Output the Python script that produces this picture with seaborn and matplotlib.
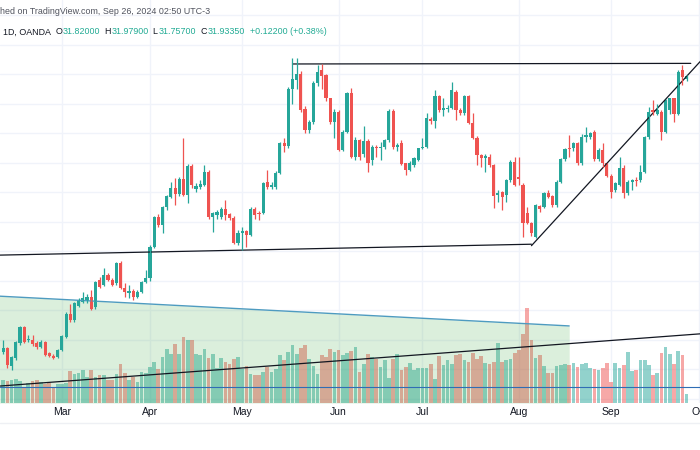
import numpy as np
import pandas as pd
import matplotlib
matplotlib.use("Agg")
import matplotlib.pyplot as plt
import seaborn as sns

opens = [22.58, 22.70, 22.10, 22.36, 22.87, 23.41, 22.98, 23.00, 22.89, 22.73,
         22.92, 22.53, 22.44, 22.42, 22.64, 23.09, 23.88, 23.66, 24.14, 24.28,
         24.30, 24.45, 24.11, 25.01, 24.85, 25.18, 25.02, 24.90, 25.58, 24.73,
         24.59, 24.65, 24.45, 24.62, 24.96, 25.07, 26.15, 27.16, 26.88, 27.48,
         27.84, 28.12, 27.93, 28.43, 27.90, 28.88, 28.09, 28.18, 28.24, 28.69,
         27.16, 27.22, 27.16, 27.44, 27.24, 27.13, 26.28, 26.62, 26.67, 26.54,
         27.44, 27.30, 27.30, 28.35, 28.18, 28.18, 28.63, 29.65, 29.57, 31.48,
         31.79, 32.00, 30.80, 30.10, 30.38, 31.68, 32.13, 31.96, 31.17, 30.38,
         30.72, 29.44, 30.04, 31.34, 29.19, 29.76, 29.28, 29.74, 29.08, 29.53,
         29.48, 29.53, 29.76, 30.74, 29.53, 29.65, 28.98, 28.75, 28.92, 29.09,
         29.48, 29.54, 30.47, 30.39, 31.24, 30.78, 30.80, 30.84, 31.40, 30.78,
         30.67, 31.24, 30.33, 29.82, 29.26, 29.14, 29.20, 28.92, 27.90, 28.01,
         27.90, 28.41, 29.03, 28.50, 28.24, 27.28, 26.94, 26.49, 27.53, 27.50,
         27.96, 27.86, 27.56, 28.35, 29.11, 29.48, 29.48, 29.65, 28.97, 29.88,
         29.88, 30.05, 29.11, 29.42, 28.97, 28.54, 28.06, 28.23, 28.83, 27.95,
         28.35, 28.42, 28.40, 28.69, 29.87, 30.78, 30.66, 30.72, 30.04, 30.78,
         31.17, 30.66, 32.13, 31.82]
highs = [23.00, 22.75, 22.45, 22.95, 23.45, 23.45, 23.15, 23.15, 22.95, 22.98,
         22.95, 22.58, 22.50, 22.68, 23.15, 23.92, 24.20, 24.28, 24.40, 24.62,
         24.55, 24.67, 25.00, 25.13, 25.41, 25.25, 25.10, 25.62, 25.65, 24.90,
         24.85, 24.70, 24.68, 25.00, 25.36, 26.20, 27.20, 27.25, 27.52, 27.90,
         28.35, 28.46, 28.50, 29.82, 28.95, 28.95, 28.30, 28.40, 28.91, 28.74,
         27.33, 27.40, 27.50, 27.73, 27.30, 27.20, 26.70, 26.80, 26.70, 27.50,
         27.50, 27.35, 28.35, 28.74, 28.35, 28.70, 29.70, 29.82, 31.55, 32.53,
         32.53, 32.10, 30.90, 30.45, 31.75, 32.30, 32.35, 32.00, 31.20, 30.80,
         30.78, 30.10, 31.40, 31.51, 29.85, 29.80, 30.23, 29.80, 29.60, 29.60,
         29.70, 29.80, 30.80, 30.80, 29.65, 29.75, 29.00, 29.05, 29.20, 29.50,
         29.82, 30.67, 30.55, 31.46, 31.30, 31.18, 30.95, 31.74, 31.45, 30.85,
         31.30, 31.30, 30.67, 29.90, 29.30, 29.30, 29.30, 28.95, 28.07, 28.05,
         28.45, 29.10, 29.20, 29.20, 28.30, 27.50, 27.00, 27.60, 27.56, 28.00,
         28.07, 27.90, 28.40, 29.15, 29.50, 29.93, 29.70, 29.70, 29.95, 30.22,
         30.05, 30.10, 29.48, 29.65, 29.00, 28.60, 28.35, 29.19, 28.90, 28.40,
         28.45, 28.50, 28.91, 29.90, 30.89, 31.11, 31.00, 30.78, 31.15, 31.20,
         31.20, 32.15, 32.30, 31.98]
lows = [22.50, 22.02, 21.96, 22.30, 22.80, 22.88, 22.92, 22.78, 22.68, 22.70,
        22.45, 22.40, 22.33, 22.38, 22.60, 23.05, 23.60, 23.60, 24.10, 24.25,
        24.25, 24.00, 24.05, 24.75, 24.80, 24.98, 24.80, 24.85, 24.70, 24.45,
        24.39, 24.34, 24.40, 24.58, 24.92, 25.00, 26.10, 26.80, 26.60, 27.40,
        27.80, 27.56, 27.85, 27.85, 27.62, 28.15, 28.00, 28.10, 28.20, 27.10,
        26.65, 27.10, 27.10, 27.05, 27.05, 26.25, 26.20, 26.03, 26.14, 26.50,
        27.10, 27.05, 27.25, 28.10, 28.10, 28.10, 28.60, 29.36, 29.50, 31.00,
        31.50, 30.70, 30.00, 30.00, 30.30, 31.60, 31.50, 31.10, 30.30, 29.82,
        29.40, 29.40, 30.00, 29.15, 29.10, 29.10, 29.20, 28.69, 28.90, 29.20,
        29.08, 29.45, 29.70, 29.45, 29.40, 28.90, 28.58, 28.70, 28.85, 29.05,
        29.45, 29.50, 30.30, 30.16, 30.70, 30.56, 30.70, 30.80, 30.44, 30.60,
        30.60, 30.30, 29.80, 28.92, 28.86, 28.69, 28.85, 27.45, 27.67, 27.39,
        27.67, 28.35, 28.20, 28.24, 26.49, 26.90, 26.50, 26.45, 27.33, 27.45,
        27.80, 27.50, 27.50, 28.30, 29.05, 29.20, 29.40, 28.90, 28.90, 29.71,
        29.80, 29.05, 29.05, 28.86, 28.50, 27.78, 28.00, 28.20, 27.78, 27.90,
        28.06, 28.20, 28.35, 28.65, 29.80, 30.60, 30.60, 29.76, 30.00, 30.65,
        30.38, 30.60, 31.62, 31.76]
closes = [22.70, 22.13, 22.42, 22.92, 23.41, 22.92, 23.02, 22.84, 22.73, 22.92,
          22.49, 22.44, 22.38, 22.64, 23.12, 23.88, 23.66, 24.25, 24.34, 24.39,
          24.45, 24.05, 24.96, 24.79, 25.18, 25.02, 24.85, 25.58, 24.73, 24.62,
          24.65, 24.45, 24.62, 24.96, 25.07, 26.15, 27.16, 26.88, 27.48, 27.86,
          28.12, 27.93, 28.43, 27.90, 28.88, 28.24, 28.20, 28.26, 28.69, 27.16,
          27.30, 27.33, 27.44, 27.22, 27.13, 26.28, 26.62, 26.67, 26.54, 27.44,
          27.22, 27.24, 28.31, 28.18, 28.23, 28.63, 29.67, 29.57, 31.48, 31.82,
          32.00, 30.78, 30.10, 30.38, 31.68, 32.08, 31.93, 31.17, 30.38, 30.72,
          29.44, 30.04, 31.34, 29.19, 29.76, 29.19, 29.74, 28.97, 29.53, 29.48,
          29.53, 29.76, 30.74, 29.53, 29.59, 28.95, 28.75, 28.98, 29.14, 29.48,
          29.54, 30.50, 30.39, 31.24, 30.78, 30.84, 30.84, 31.46, 30.78, 30.67,
          31.24, 30.33, 29.82, 29.26, 29.14, 29.22, 28.92, 27.85, 27.96, 27.84,
          28.41, 29.03, 28.24, 28.45, 26.94, 26.94, 26.60, 27.56, 27.41, 27.96,
          27.84, 27.56, 28.35, 29.11, 29.45, 29.45, 29.65, 28.97, 29.88, 29.93,
          29.99, 29.11, 29.42, 28.97, 28.54, 28.01, 28.29, 28.83, 27.95, 28.35,
          28.40, 28.36, 28.69, 29.87, 30.72, 30.72, 30.78, 30.04, 31.11, 31.17,
          30.66, 32.08, 31.91, 31.93]
volumes = [23, 22, 23, 24, 22, 16, 20, 22, 23, 21,
           19, 20, 16, 19, 19, 20, 32, 29, 30, 33,
           26, 33, 26, 28, 28, 23, 23, 29, 39, 30,
           23, 26, 21, 31, 30, 36, 41, 34, 46, 54,
           49, 59, 49, 66, 63, 63, 49, 48, 54, 45,
           49, 35, 45, 41, 39, 44, 46, 34, 37, 29,
           28, 28, 31, 36, 31, 34, 48, 43, 51, 58,
           49, 55, 58, 44, 37, 29, 48, 46, 54, 51,
           53, 48, 50, 52, 56, 31, 39, 49, 46, 44,
           36, 43, 25, 44, 49, 33, 36, 40, 33, 35,
           35, 35, 39, 24, 47, 38, 43, 39, 48, 49,
           43, 41, 50, 44, 47, 40, 39, 41, 60, 41,
           43, 44, 50, 53, 69, 95, 63, 45, 48, 37,
           30, 30, 37, 38, 39, 38, 40, 36, 39, 40,
           35, 34, 33, 35, 40, 21, 40, 35, 38, 51,
           32, 33, 43, 43, 38, 28, 30, 50, 56, 49,
           39, 52, 48, 9]

# dessins (trendlines, zone) en coordonnées index / prix
top_line_x, top_line_y = [69, 164], [32.34, 32.36]
base_line_x, base_line_y = [-1, 126], [25.86, 26.23]
channel_x, channel_y = [126, 167], [26.18, 32.54]
zone_x, zone_y = [-1, 135], [24.47, 23.46]
vol_trend_x, vol_trend_y = [-1, 167], [21.42, 23.20]
vol_level = 21.39

days = pd.bdate_range("2024-02-12", "2024-10-01")
idx = np.arange(len(opens))
o, h, l, c = map(np.array, (opens, highs, lows, closes))
up = c >= o
green, red = "#26a69a", "#ef5350"
cols = np.where(up, green, red)

sns.set_style("white")
plt.rcParams["font.family"] = ["Liberation Sans", "DejaVu Sans"]

fig = plt.figure(figsize=(7, 4.5), dpi=100)
rect = [0, 47 / 450, 1, 403 / 450]
ax = fig.add_axes(rect)
axv = fig.add_axes(rect, sharex=ax)
ax2 = fig.add_axes(rect, sharex=ax, sharey=ax)
for a in (axv, ax2):
    a.patch.set_alpha(0)

ymin, ymax = 20.8475, 34.5085

# grille + mois
month_pos = [i for i in range(1, len(days)) if days[i].month != days[i - 1].month]
ax.set_xticks(month_pos)
ax.set_xticklabels([days[i].strftime("%b") for i in month_pos], fontsize=7.5, color="#131722")
ax.set_yticks(np.arange(21, 35))
ax.set_yticklabels([])
ax.grid(True, color="#f0f3fa", lw=1)
ax.tick_params(length=0, pad=3)
for s in ax.spines.values():
    s.set_visible(False)

# volume
df = pd.DataFrame({"i": idx, "vol": volumes, "dir": np.where(up, "up", "down")})
sns.barplot(data=df, x="i", y="vol", hue="dir", palette={"up": green, "down": red},
            native_scale=True, width=0.88, dodge=False, alpha=0.5, saturation=1,
            errorbar=None, legend=False, ax=axv, linewidth=0)
axv.set_ylim(0, 403)
axv.axis("off")

# zone verte + lignes
ax2.fill_between(zone_x, zone_y, ymin, color="#4caf50", alpha=0.2, lw=0)
ax2.plot(zone_x, zone_y, color="#4e9bc0", lw=1)
ax2.axhline(vol_level, color="#2f6db5", lw=0.8)
for xs, ys in [(top_line_x, top_line_y), (base_line_x, base_line_y),
               (channel_x, channel_y), (vol_trend_x, vol_trend_y)]:
    ax2.plot(xs, ys, color="#131722", lw=0.9)

# bougies
ax2.vlines(idx, l, h, colors=cols, lw=0.9)
body = np.maximum(np.abs(c - o), 0.03)
ax2.bar(idx, body, bottom=np.minimum(o, c), width=0.75, color=cols, lw=0)
ax2.axis("off")

ax.set_xlim(-0.76, 166.2)
ax.set_ylim(ymin, ymax)

# en-tête
fs = 6.4
fig.text(0, 1 - 12 / 450, "hed on TradingView.com, Sep 26, 2024 02:50 UTC-3",
         fontsize=fs, color="#50535e", va="center")
first = fig.text(3 / 700, 1 - 32 / 450, "1D, OANDA  ", fontsize=fs, color="#131722", va="center")
teal = "#22ab94"
parts = [("O", "#131722"), ("31.82000", teal), ("  H", "#131722"), ("31.97900", teal),
         ("  L", "#131722"), ("31.75700", teal), ("  C", "#131722"), ("31.93350", teal),
         ("  +0.12200 (+0.38%)", teal)]
texts = [fig.text(0, 0, s, fontsize=fs, color=col, va="center") for s, col in parts]

# placement séquentiel des morceaux de la 2e ligne
fig.canvas.draw()
r = fig.canvas.get_renderer()
x = first.get_window_extent(r).x1
for tx in texts:
    tx.set_position((x / fig.bbox.width, 1 - 32 / 450))
    x = tx.get_window_extent(r).x1

fig.add_artist(plt.Line2D([0, 1], [1 - 423 / 450, 1 - 423 / 450], color="#eef0f4", lw=1))

fig.savefig("out.png", dpi=100)
